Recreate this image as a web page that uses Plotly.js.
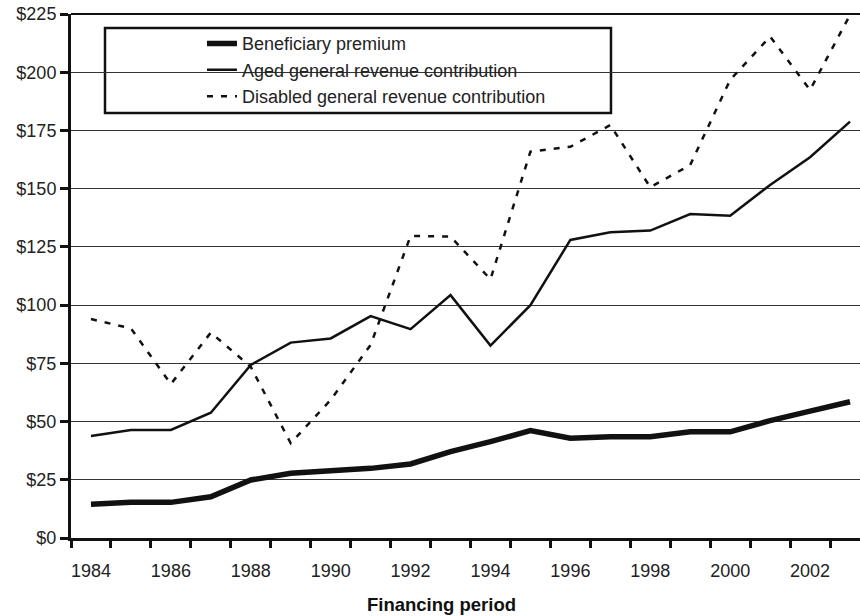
<!DOCTYPE html>
<html>
<head>
<meta charset="utf-8">
<script src="https://cdn.plot.ly/plotly-3.0.1.min.js"></script>
<style>html,body{margin:0;padding:0;background:#fff;}#chart{width:860px;height:616px;}</style>
</head>
<body>
<div id="chart"></div>
<script>
// Financing periods
const years = [1984,1985,1986,1987,1988,1989,1990,1991,1992,1993,1994,1995,1996,1997,1998,1999,2000,2001,2002,2003];
// Beneficiary premium
const premium = [14.5,15.3,15.3,17.7,24.9,27.8,28.9,29.9,31.8,37.1,41.4,46.1,42.8,43.5,43.5,45.6,45.6,50.4,54.5,58.5];
// Aged general revenue contribution
const aged = [43.8,46.4,46.4,53.8,74.3,83.9,85.7,95.3,89.7,104.3,82.6,100.0,128.0,131.3,132.0,139.1,138.4,151.6,163.5,178.8];
// Disabled general revenue contribution
const disabled = [94.0,90.0,66.1,88.2,73.5,40.7,59.3,82.9,129.7,129.4,111.1,165.9,168.0,177.3,150.6,160.2,196.7,215.3,192.4,224.6];
const seriesNames = ['Beneficiary premium','Aged general revenue contribution','Disabled general revenue contribution'];
const xTickYears = [1984,1986,1988,1990,1992,1994,1996,1998,2000,2002];
const yTicks = [0,25,50,75,100,125,150,175,200,225];
const xTitle = 'Financing period';

const FONT = 'Liberation Sans, Arial, sans-serif';
const boundaries = years.map(y => y - 0.5).concat([years[years.length-1] + 0.5]);

const traces = [
  {x: years, y: premium, name: seriesNames[0], type: 'scatter', mode: 'lines',
   line: {color: '#111', width: 5.5}},
  {x: years, y: aged, name: seriesNames[1], type: 'scatter', mode: 'lines',
   line: {color: '#111', width: 2.5}},
  {x: years, y: disabled, name: seriesNames[2], type: 'scatter', mode: 'lines',
   line: {color: '#111', width: 2.5, dash: '6px,8px'}}
];

const layout = {
  width: 860, height: 616,
  margin: {l: 71, r: 0, t: 14, b: 78},
  paper_bgcolor: '#fff', plot_bgcolor: '#fff',
  font: {family: FONT, size: 18, color: '#222'},
  showlegend: true,
  legend: {
    x: 0.166, xanchor: 'left', y: 0.9785, yanchor: 'top',
    bgcolor: 'rgba(0,0,0,0)', borderwidth: 0,
    font: {family: FONT, size: 18, color: '#222'},
    tracegroupgap: 0
  },
  xaxis: {
    range: [1983.5, 2003.25],
    tickmode: 'array', tickvals: xTickYears, ticktext: xTickYears.map(String),
    ticks: '', ticklabelstandoff: 14,
    showgrid: false, zeroline: false,
    showline: true, linecolor: '#111', linewidth: 3,
    minor: {tickmode: 'array', tickvals: boundaries, ticks: 'outside', ticklen: 7, tickwidth: 3, tickcolor: '#111', showgrid: false},
    tickfont: {family: FONT, size: 18, color: '#222'},
    fixedrange: true
  },
  yaxis: {
    range: [0, 225],
    tickmode: 'array', tickvals: yTicks, ticktext: yTicks.map(v => '$' + v),
    ticks: 'outside', ticklen: 8, tickwidth: 3, tickcolor: '#111',
    showgrid: true, gridcolor: '#333', gridwidth: 1,
    zeroline: false,
    showline: true, linecolor: '#111', linewidth: 3,
    tickfont: {family: FONT, size: 18, color: '#222'},
    fixedrange: true
  },
  shapes: [
    {type: 'line', xref: 'paper', yref: 'paper', x0: 0, x1: 1, y0: 1, y1: 1,
     line: {color: '#111', width: 2}, layer: 'above'},
    {type: 'rect', xref: 'paper', yref: 'paper', x0: 0.0431, x1: 0.6844, y0: 0.811, y1: 0.9733,
     line: {color: '#111', width: 2.5}, fillcolor: '#fff', layer: 'between'}
  ],
  annotations: [
    {text: '<b>' + xTitle + '</b>', xref: 'paper', yref: 'paper', x: 0.470, y: -0.126,
     xanchor: 'center', yanchor: 'middle', showarrow: false,
     font: {family: FONT, size: 18.5, color: '#111'}}
  ]
};

Plotly.newPlot('chart', traces, layout, {displayModeBar: false, staticPlot: true});
</script>
</body>
</html>
